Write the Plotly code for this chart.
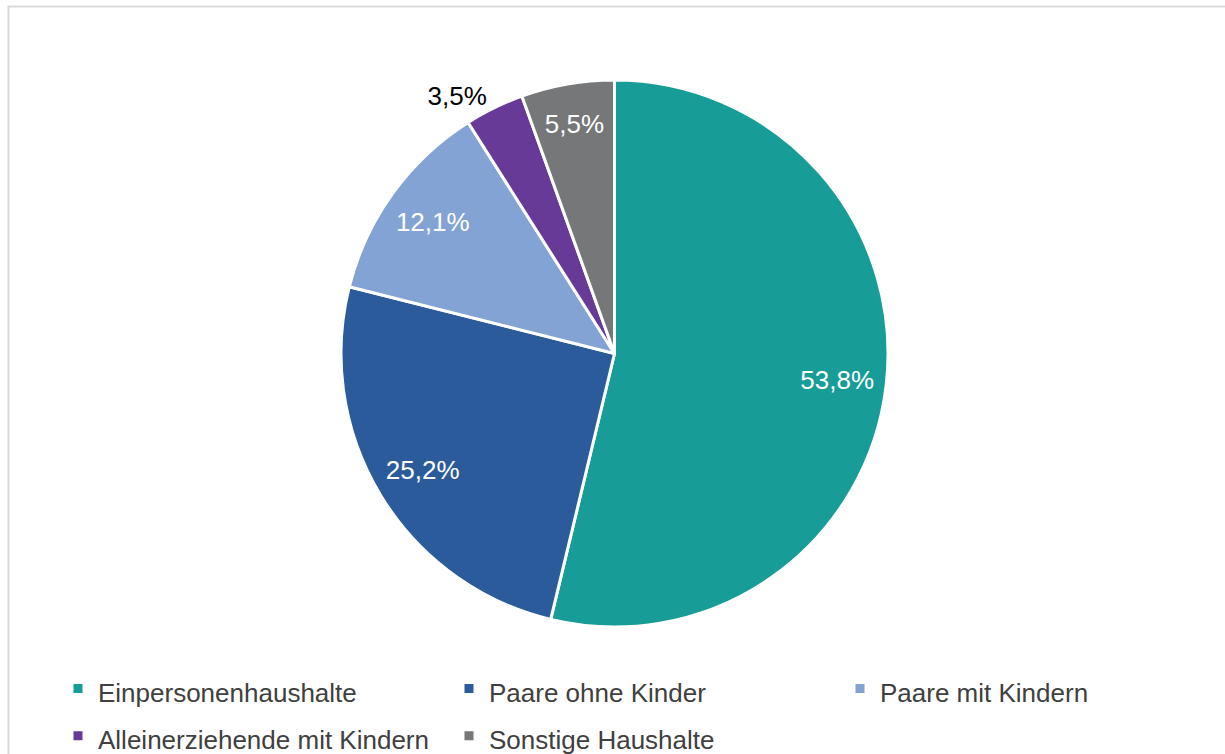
import plotly.graph_objects as go

categories = ["Einpersonenhaushalte", "Paare ohne Kinder", "Paare mit Kindern",
              "Alleinerziehende mit Kindern", "Sonstige Haushalte"]
shares = [53.8, 25.2, 12.1, 3.5, 5.5]
colors = ["#179C98", "#2B5B9B", "#82A3D4", "#663A96", "#767779"]
label_pos = ["inside", "inside", "inside", "outside", "inside"]

W, H = 1225, 754
FONT = "Liberation Sans, Arial"
pie_domain = dict(x=[341 / W, 888 / W], y=[1 - 627 / H, 1 - 80 / H])

# legend rows are sized by the legend font; the visible text is drawn at 26px
legend_labels = [f'<span style="font-size:26px">{c}</span>' for c in categories]

fig = go.Figure()

# the pie itself (slices + legend)
fig.add_trace(go.Pie(
    labels=legend_labels,
    values=shares,
    sort=False,
    direction="clockwise",
    rotation=0,
    marker=dict(colors=colors, line=dict(color="white", width=3)),
    textinfo="none",
    domain=pie_domain,
    automargin=False,
    hoverinfo="skip",
))

# label layer: same data, transparent ring so that the value labels sit
# towards the rim as in the original
fig.add_trace(go.Pie(
    labels=legend_labels,
    values=shares,
    sort=False,
    direction="clockwise",
    rotation=0,
    hole=0.64,
    marker=dict(colors=["rgba(0,0,0,0)"] * len(shares), line=dict(width=0)),
    texttemplate="%{value:.1f}%",
    textposition=label_pos,
    insidetextorientation="horizontal",
    insidetextfont=dict(color="white", size=26, family=FONT),
    outsidetextfont=dict(color="black", size=26, family=FONT),
    domain=pie_domain,
    automargin=False,
    showlegend=False,
    hoverinfo="skip",
))

fig.update_layout(
    width=W, height=H,
    margin=dict(l=0, r=0, t=0, b=0, autoexpand=False),
    paper_bgcolor="white",
    plot_bgcolor="white",
    separators=",.",
    font=dict(family=FONT, color="#404040"),
    legend=dict(
        orientation="h",
        x=58 / W, xanchor="left",
        y=1 - 660 / H, yanchor="top",
        font=dict(size=34, color="#404040", family=FONT),
        entrywidth=346,
        entrywidthmode="pixels",
        bgcolor="rgba(0,0,0,0)",
        borderwidth=0,
    ),
    shapes=[dict(type="rect", xref="paper", yref="paper",
                 x0=8.5 / W, x1=1.02, y0=-0.02, y1=1 - 6.5 / H,
                 line=dict(color="#D9D9D9", width=2), fillcolor="rgba(0,0,0,0)",
                 layer="below")],
)

fig.write_html("out.html", config={"displayModeBar": False},
               post_script="document.body.style.margin='0px';")
